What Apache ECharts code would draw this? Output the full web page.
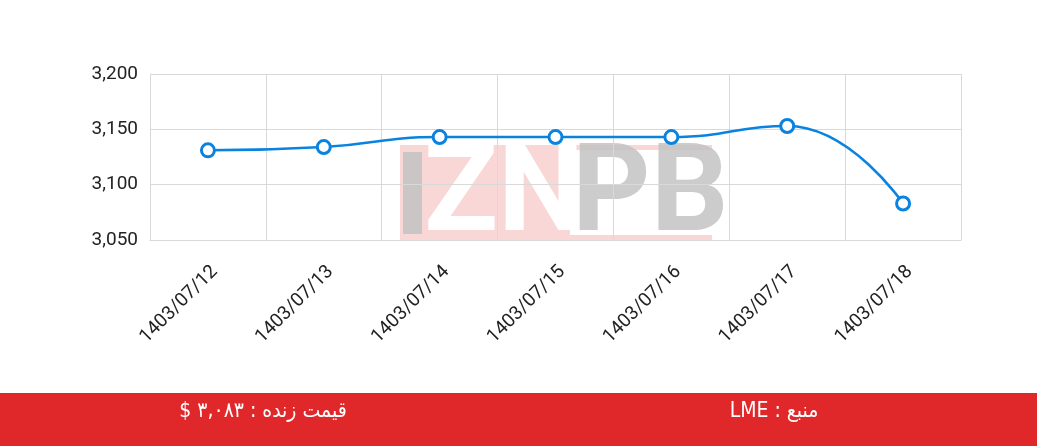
<!DOCTYPE html>
<html>
<head>
<meta charset="utf-8">
<script src="https://cdn.jsdelivr.net/npm/echarts@6/dist/echarts.min.js"></script>
<style>
  html, body { margin: 0; padding: 0; background: #fff; }
  #chart { width: 1037px; height: 446px; }
</style>
</head>
<body>
<div id="chart"></div>
<script>
// داده‌های نمودار
var dates = ["1403/07/12", "1403/07/13", "1403/07/14", "1403/07/15", "1403/07/16", "1403/07/17", "1403/07/18"];
var prices = [3131, 3134, 3143, 3143, 3143, 3153, 3083];
var yTicks = [3050, 3100, 3150, 3200];
var livePrice = "قیمت زنده : ۳,۰۸۳ $";
var source = "منبع : LME";

// متن راست به چپ
function rtl(s) { return "\u202B" + s + "\u202C"; }

var chart = echarts.init(document.getElementById("chart"));

var option = {
  animation: false,
  grid: { left: 150, right: 76, top: 74, bottom: 206 },
  xAxis: {
    type: "category",
    data: dates,
    boundaryGap: true,
    axisLine: { show: true, lineStyle: { color: "#d9d9d9" } },
    axisTick: { show: false },
    splitLine: { show: true, lineStyle: { color: "#d9d9d9" } },
    axisLabel: {
      rotate: 45,
      color: "#222",
      fontFamily: "Roboto",
      fontSize: 19,
      margin: 22,
      verticalAlign: "top"
    }
  },
  yAxis: {
    type: "value",
    min: yTicks[0],
    max: yTicks[yTicks.length - 1],
    interval: 50,
    axisLine: { show: true, lineStyle: { color: "#d9d9d9" } },
    axisTick: { show: false },
    splitLine: { show: true, lineStyle: { color: "#d9d9d9" } },
    axisLabel: {
      color: "#222",
      fontFamily: "Roboto",
      fontSize: 19,
      margin: 12,
      formatter: function (v) { return v.toLocaleString("en-US"); }
    }
  },
  graphic: [
    // واترمارک
    { type: "rect", z: 0, shape: { x: 400, y: 145, width: 312, height: 5 }, style: { fill: "rgba(240,140,140,0.35)" } },
    { type: "rect", z: 0, shape: { x: 400, y: 235, width: 312, height: 5 }, style: { fill: "rgba(240,140,140,0.35)" } },
    { type: "rect", z: 0, shape: { x: 400, y: 150, width: 170, height: 85 }, style: { fill: "rgba(240,140,140,0.35)" } },
    { type: "rect", z: 0, shape: { x: 403, y: 152, width: 19, height: 82 }, style: { fill: "rgba(195,195,195,0.85)" } },
    { type: "text", z: 0, left: 424, top: 138, style: { text: "ZN", fill: "#ffffff", font: "bold 122px Roboto" } },
    { type: "text", z: 0, left: 572, top: 138, style: { text: "PB", fill: "rgba(195,195,195,0.85)", font: "bold 122px Roboto" } },
    // نوار پایین
    { type: "rect", z: 10, shape: { x: 0, y: 393, width: 1037, height: 53 }, style: { fill: "#e0282b" } },
    { type: "text", z: 11, x: 263, y: 412, style: { text: rtl(livePrice), fill: "#fff", font: "21px 'DejaVu Sans Condensed', 'DejaVu Sans'", align: "center", verticalAlign: "middle" } },
    { type: "text", z: 11, x: 774, y: 412, style: { text: rtl(source), fill: "#fff", font: "21px 'DejaVu Sans Condensed', 'DejaVu Sans'", align: "center", verticalAlign: "middle" } }
  ],
  series: [
    {
      type: "line",
      data: prices,
      smooth: true,
      symbol: "circle",
      symbolSize: 13,
      z: 5,
      lineStyle: { color: "#0a83e0", width: 2.5 },
      itemStyle: { color: "#ffffff", borderColor: "#0a83e0", borderWidth: 3 }
    }
  ]
};

chart.setOption(option);
</script>
</body>
</html>
